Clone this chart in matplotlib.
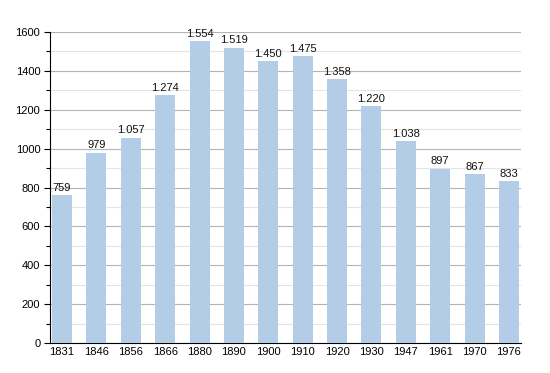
import matplotlib
matplotlib.use("Agg")
import matplotlib.pyplot as plt
from matplotlib.ticker import MultipleLocator

plt.rcParams['font.family'] = ['Liberation Sans', 'DejaVu Sans']

years = ["1831", "1846", "1856", "1866", "1880", "1890", "1900", "1910", "1920", "1930", "1947", "1961", "1970", "1976"]
population = [759, 979, 1057, 1274, 1554, 1519, 1450, 1475, 1358, 1220, 1038, 897, 867, 833]

fig = plt.figure(figsize=(5.5, 3.73), dpi=100)
ax = fig.add_axes([50/550, 30/373, 471/550, 311/373])

x = list(range(len(years)))
ax.bar(x, population, width=0.58, color="#b3cde6", zorder=3)

for xi, v in zip(x, population):
    lab = f"{v:,}".replace(",", ".")
    ax.text(xi, v + 12, lab, ha="center", va="bottom", fontsize=8, color="#111111", zorder=4)

ax.set_xlim(-0.35, len(years) - 1 + 0.35)
ax.set_ylim(0, 1600)
ax.yaxis.set_major_locator(MultipleLocator(200))
ax.yaxis.set_minor_locator(MultipleLocator(100))
ax.grid(axis="y", which="major", color="#b4b4b4", linewidth=0.8, zorder=0)
ax.grid(axis="y", which="minor", color="#e4e4e4", linewidth=0.8, zorder=0)
ax.set_xticks(x)
ax.set_xticklabels(years)
ax.tick_params(axis="x", length=0, labelsize=8, pad=3)
ax.tick_params(axis="y", which="major", length=4, width=0.8, labelsize=8, pad=3)
ax.tick_params(axis="y", which="minor", length=3, width=0.8)
for s in ["top", "right"]:
    ax.spines[s].set_visible(False)
ax.spines["left"].set_color("black")
ax.spines["bottom"].set_color("black")
ax.spines["left"].set_linewidth(0.8)
ax.spines["bottom"].set_linewidth(0.8)

fig.savefig("out.png", dpi=100)
